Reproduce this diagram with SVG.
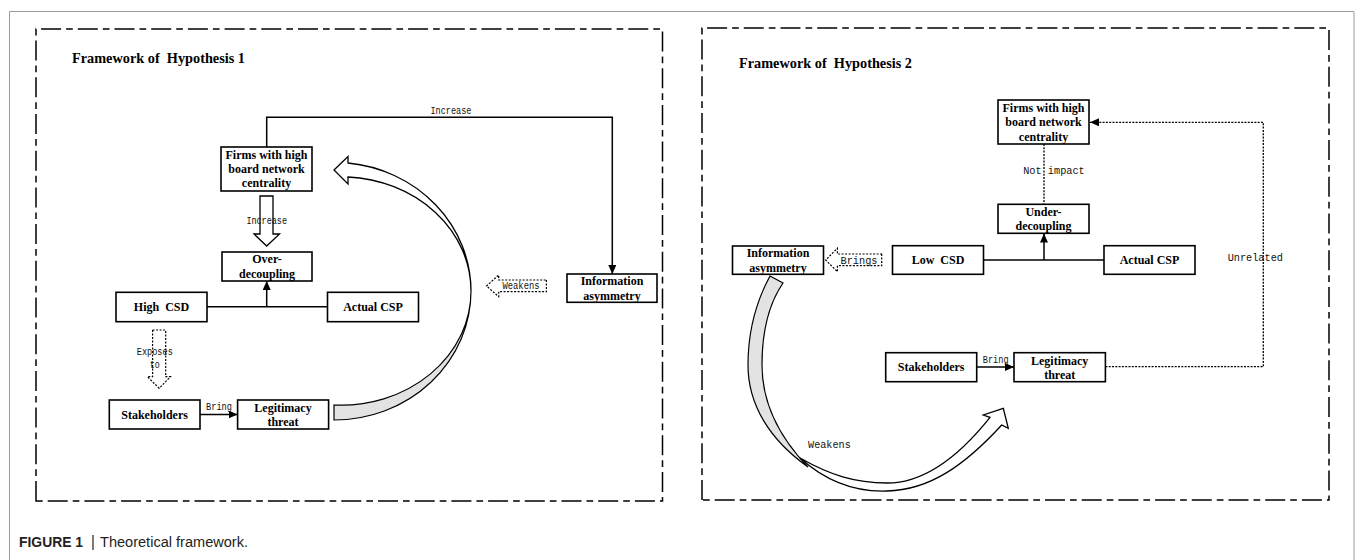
<svg xmlns="http://www.w3.org/2000/svg" width="1357" height="560" viewBox="0 0 1357 560">
<style>
.box{fill:#fff;stroke:#000;stroke-width:1.6}
.bt{font-family:"Liberation Serif",serif;font-weight:bold;font-size:12px;text-anchor:middle;fill:#000}
.ttl{font-family:"Liberation Serif",serif;font-weight:bold;font-size:14px;fill:#000}
.lbl{font-family:"Liberation Mono",monospace;font-size:11px;text-anchor:middle;fill:#111}
.frame{fill:none;stroke:#000;stroke-width:1.5;stroke-dasharray:20 5 6.7 5}
.ln{fill:none;stroke:#000;stroke-width:1.5}
.dot{fill:none;stroke:#000;stroke-width:1.3;stroke-dasharray:2 1.3}
.hollow{fill:#fff;stroke:#000;stroke-width:1.3}
.hdot{fill:#fff;stroke:#000;stroke-width:1.2;stroke-dasharray:2 1.5}
.gray{fill:#e3e3e3;stroke:#000;stroke-width:1.2}
</style>
<defs>
<marker id="ah" markerUnits="userSpaceOnUse" markerWidth="9" markerHeight="8" refX="9" refY="4" orient="auto">
<path d="M0,0 L9,4 L0,8 Z" fill="#000"/>
</marker>
</defs>
<rect width="1357" height="560" fill="#fff"/>
<path d="M9.5,560 V11.5 H1354 V560" fill="none" stroke="#9a9a9a" stroke-width="1"/>
<path class="frame" d="M36,501 V29 H662.5 V501 Z"/>
<path class="frame" d="M702,500 V28 H1329 V500 Z"/>
<text class="ttl" x="72" y="62.5" textLength="173" lengthAdjust="spacingAndGlyphs" xml:space="preserve">Framework of  Hypothesis 1</text>
<text class="ttl" x="739" y="67.5" textLength="173" lengthAdjust="spacingAndGlyphs" xml:space="preserve">Framework of  Hypothesis 2</text>

<g id="connectors">
<path class="ln" d="M266.7,147 V117.3 H612.3 V274" marker-end="url(#ah)"/>
<text class="lbl" x="451" y="113.5" textLength="41" lengthAdjust="spacingAndGlyphs">Increase</text>
<path class="hollow" d="M260,196 H273 V234 H279.5 L266.7,246 L254,234 H260 Z"/>
<text class="lbl" x="266.7" y="223.5" textLength="40.6" lengthAdjust="spacingAndGlyphs">Increase</text>
<path class="ln" stroke-width="1.8" d="M207,306.7 H327.5"/>
<path class="ln" stroke-width="1.8" d="M266.7,306.7 V281" marker-end="url(#ah)"/>
<path class="hdot" d="M152.6,330 H165.7 V376.7 H170.4 L159.2,388.3 L147.4,376.7 H152.6 Z"/>
<text class="lbl" x="154.8" y="355" textLength="36" lengthAdjust="spacingAndGlyphs">Exposes</text>
<text class="lbl" x="154.8" y="368" textLength="10" lengthAdjust="spacingAndGlyphs">to</text>
<path class="ln" d="M200,414.5 H237.5" marker-end="url(#ah)"/>
<text class="lbl" x="219" y="409.5" textLength="26" lengthAdjust="spacingAndGlyphs">Bring</text>
<path class="gray" d="M471,291 A137,129 0 0 1 334,420 L334,405 A130,114 0 0 0 471,291 Z"/>
<path class="hollow" d="M334,170 L348,156.5 L348,163 A137,129 0 0 1 471,291 A130,114 0 0 0 348,177 L348,184 Z"/>
<path class="hdot" d="M546.4,280 V291.7 H498.7 V296.7 L486.5,286 L498.7,275 V280 Z"/>
<text class="lbl" x="521" y="289" font-size="9" textLength="37" lengthAdjust="spacingAndGlyphs">Weakens</text>

<path class="dot" d="M1044,144 V204.3"/>
<text class="lbl" x="1054" y="174" font-size="12" textLength="61.6" lengthAdjust="spacingAndGlyphs">Not impact</text>
<path class="ln" stroke-width="1.8" d="M983.6,260 H1104"/>
<path class="ln" stroke-width="1.8" d="M1044,260 V233.5" marker-end="url(#ah)"/>
<path class="hdot" d="M881.7,254 V265.7 H837.4 V271.7 L825.7,260 L837.4,248.3 V254 Z"/>
<text class="lbl" x="859" y="263.5" font-size="10" textLength="37" lengthAdjust="spacingAndGlyphs">Brings</text>
<path class="dot" d="M1105.4,366.7 H1263.3 V122.3 H1090" marker-end="url(#ah)"/>
<text class="lbl" x="1255.3" y="261" font-size="12" textLength="55.3" lengthAdjust="spacingAndGlyphs">Unrelated</text>
<path class="ln" d="M976.7,367 H1014" marker-end="url(#ah)"/>
<text class="lbl" x="995.7" y="362.5" textLength="25.7" lengthAdjust="spacingAndGlyphs">Bring</text>
<path class="gray" d="M770,276 C757,300 748,330 748,365 C748,405 770,440 808,467 C782,440 762,405 762,365 C762,330 770,302 783,283 Z"/>
<path class="hollow" d="M800,458 C830,485 860,492 887,491 C930,490 965,465 1001.7,425 L1008.3,428.3 L1003.3,408.3 L983.3,415 L990,417.3 C960,455 925,483 887,483 C855,483 830,475 800,458 Z"/>
<text class="lbl" x="829.4" y="448" font-size="12" textLength="42.7" lengthAdjust="spacingAndGlyphs">Weakens</text>
</g>

<g id="firms-l"><rect class="box" x="221" y="147" width="91" height="44"/>
<text class="bt" x="266.5" y="158.8">Firms with high</text><text class="bt" x="266.5" y="172.8">board network</text><text class="bt" x="266.5" y="186.8">centrality</text></g>
<g id="over-decoupling"><rect class="box" x="222" y="252" width="90" height="29"/>
<text class="bt" x="267" y="263.3">Over-</text><text class="bt" x="267" y="277.5">decoupling</text></g>
<g id="high-csd"><rect class="box" x="116" y="292.3" width="91" height="29.4"/>
<text class="bt" x="161.5" y="311" xml:space="preserve">High  CSD</text></g>
<g id="actual-csp-l"><rect class="box" x="327.5" y="292.3" width="91" height="29.4"/>
<text class="bt" x="373" y="311">Actual CSP</text></g>
<g id="stakeholders-l"><rect class="box" x="109.3" y="400" width="90.7" height="29"/>
<text class="bt" x="154.6" y="419">Stakeholders</text></g>
<g id="legitimacy-l"><rect class="box" x="237.6" y="400" width="91" height="29"/>
<text class="bt" x="283" y="411.5">Legitimacy</text><text class="bt" x="283" y="425.8">threat</text></g>
<g id="info-l"><rect class="box" x="567" y="274" width="90" height="28.3"/>
<text class="bt" x="612" y="285">Information</text><text class="bt" x="612" y="299.5">asymmetry</text></g>

<g id="firms-r"><rect class="box" x="998" y="100" width="91" height="44"/>
<text class="bt" x="1043.5" y="111.5">Firms with high</text><text class="bt" x="1043.5" y="126.3">board network</text><text class="bt" x="1043.5" y="141">centrality</text></g>
<g id="under-decoupling"><rect class="box" x="998" y="204.3" width="91" height="29"/>
<text class="bt" x="1043.5" y="215.7">Under-</text><text class="bt" x="1043.5" y="230.3">decoupling</text></g>
<g id="low-csd"><rect class="box" x="892.5" y="245.7" width="91" height="28.6"/>
<text class="bt" x="938" y="264" xml:space="preserve">Low  CSD</text></g>
<g id="actual-csp-r"><rect class="box" x="1104" y="245.7" width="91" height="28.6"/>
<text class="bt" x="1149.5" y="264">Actual CSP</text></g>
<g id="info-r"><rect class="box" x="732.5" y="246" width="91" height="28.3"/>
<text class="bt" x="778" y="256.7">Information</text><text class="bt" x="778" y="271.5">asymmetry</text></g>
<g id="stakeholders-r"><rect class="box" x="885.7" y="352.7" width="91" height="29"/>
<text class="bt" x="931.2" y="371.3">Stakeholders</text></g>
<g id="legitimacy-r"><rect class="box" x="1014" y="352.7" width="91.4" height="29"/>
<text class="bt" x="1059.7" y="364.7">Legitimacy</text><text class="bt" x="1059.7" y="379">threat</text></g>

<g id="caption">
<text x="19" y="547" font-family="Liberation Sans, sans-serif" font-weight="bold" font-size="15.5" fill="#231f20" textLength="64" lengthAdjust="spacingAndGlyphs">FIGURE 1</text>
<path d="M93,535 V550" stroke="#231f20" stroke-width="1.2"/>
<text x="100" y="547" font-family="Liberation Sans, sans-serif" font-size="15.5" fill="#231f20" textLength="148" lengthAdjust="spacingAndGlyphs">Theoretical framework.</text>
</g>
</svg>
